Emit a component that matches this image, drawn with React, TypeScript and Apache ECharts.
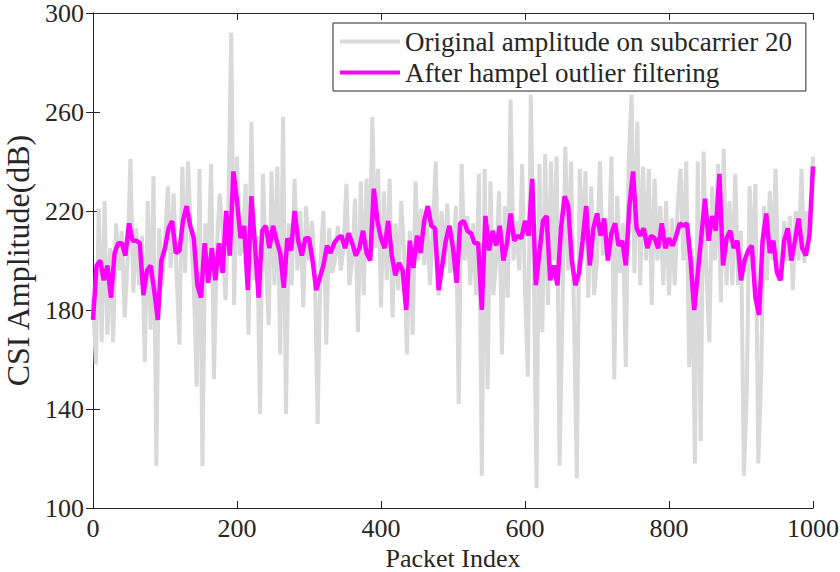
import React, { useEffect, useRef } from "react";
import * as echarts from "echarts";

// Packet index step for the two traced series
const grayStep = 4;
const magentaStep = 5;

// Original amplitude on subcarrier 20 (one value every 4 packets, 0..1000)
const grayValues: number[] = [
  185, 158, 221, 167, 224, 170, 205, 167, 215, 196,
  212, 177, 200, 241, 187, 213, 190, 210, 159, 224,
  172, 234, 117, 213, 190, 208, 230, 197, 227, 195,
  166, 238, 195, 240, 210, 190, 149, 237, 117, 215,
  195, 239, 152, 205, 227, 212, 184, 220, 292, 182,
  242, 202, 205, 231, 170, 256, 192, 210, 138, 235,
  200, 174, 236, 190, 238, 162, 258, 138, 215, 190,
  233, 196, 220, 181, 222, 200, 216, 198, 134, 200,
  220, 166, 213, 195, 200, 214, 196, 205, 231, 190,
  200, 225, 171, 232, 186, 233, 200, 258, 205, 237,
  181, 228, 192, 233, 177, 215, 188, 224, 205, 162,
  212, 170, 232, 200, 221, 198, 216, 190, 212, 240,
  186, 220, 197, 223, 195, 200, 222, 142, 239, 200,
  218, 190, 215, 186, 235, 113, 237, 148, 232, 186,
  200, 228, 162, 222, 185, 265, 200, 216, 196, 239,
  188, 153, 267, 200, 108, 239, 171, 243, 182, 240,
  200, 242, 117, 180, 246, 196, 240, 179, 112, 237,
  202, 236, 185, 230, 186, 200, 240, 202, 216, 200,
  242, 152, 226, 195, 215, 157, 240, 267, 195, 256,
  190, 238, 200, 237, 182, 233, 200, 222, 190, 224,
  186, 217, 190, 222, 237, 200, 240, 157, 205, 118,
  240, 127, 244, 196, 167, 230, 200, 239, 183, 245,
  190, 224, 190, 235, 190, 212, 113, 146, 230, 196,
  231, 118, 154, 222, 192, 228, 200, 237, 192, 196,
  216, 200, 218, 188, 220, 200, 237, 199, 220, 212,
  242,
];

// After hampel outlier filtering (one value every 5 packets, 0..1000)
const filteredValues: number[] = [
  176, 198, 200, 192, 198, 185, 203, 207, 207, 202,
  215, 208, 208, 207, 186, 196, 198, 188, 176, 200,
  205, 213, 216, 203, 204, 216, 222, 214, 209, 190,
  185, 207, 191, 205, 192, 207, 195, 220, 202, 236,
  224, 209, 214, 188, 226, 206, 185, 212, 214, 205,
  214, 208, 203, 189, 209, 204, 220, 208, 202, 209,
  209, 200, 188, 193, 198, 206, 203, 207, 209, 210,
  205, 211, 207, 202, 205, 212, 203, 200, 229, 216,
  209, 205, 216, 202, 194, 199, 196, 180, 208, 197,
  210, 203, 216, 222, 214, 213, 188, 198, 208, 214,
  205, 191, 215, 216, 212, 211, 207, 207, 180, 218,
  204, 212, 206, 214, 200, 207, 219, 208, 210, 209,
  216, 210, 233, 190, 203, 216, 218, 192, 198, 190,
  213, 226, 222, 200, 190, 195, 208, 222, 198, 213,
  219, 210, 217, 200, 211, 215, 206, 208, 198, 222,
  236, 213, 210, 213, 205, 210, 209, 205, 215, 205,
  209, 206, 210, 215, 214, 215, 200, 180, 195, 210,
  225, 208, 218, 212, 235, 198, 209, 212, 205, 208,
  192, 200, 204, 206, 185, 178, 208, 219, 203, 208,
  195, 192, 208, 213, 200, 208, 217, 205, 202, 210,
  238,
];

const seriesNames = [
  "Original amplitude on subcarrier 20",
  "After hampel outlier filtering",
];
const xTitle = "Packet Index";
const yTitle = "CSI Amplitude(dB)";

const FONT = "Liberation Serif";
const INK = "#262626";

export default function App() {
  const ref = useRef<HTMLDivElement>(null);

  useEffect(() => {
    if (!ref.current) return;
    const chart = echarts.init(ref.current, undefined, { renderer: "svg" });

    const grayData = grayValues.map((v, i) => [i * grayStep, v]);
    const filtData = filteredValues.map((v, i) => [i * magentaStep, v]);

    const baseX = {
      type: "value" as const,
      min: 0,
      max: 1000,
      interval: 200,
      splitLine: { show: false },
      axisLine: { show: true, lineStyle: { color: INK, width: 1 } },
      axisTick: { show: true, inside: true, length: 7, lineStyle: { color: INK } },
    };
    const baseY = {
      type: "value" as const,
      min: 100,
      max: 300,
      interval: 40,
      splitLine: { show: false },
      axisLine: { show: true, lineStyle: { color: INK, width: 1 } },
      axisTick: { show: true, inside: true, length: 7, lineStyle: { color: INK } },
    };

    chart.setOption({
      animation: false,
      backgroundColor: "#ffffff",
      textStyle: { fontFamily: FONT },
      grid: {
        left: 93,
        right: 27,
        top: 13,
        bottom: 64,
        containLabel: false,
        outerBoundsMode: "none",
      },
      xAxis: [
        {
          ...baseX,
          position: "bottom",
          axisLabel: {
            fontFamily: FONT,
            fontSize: 26,
            color: INK,
            margin: 7,
            formatter: (v: number) => String(v),
          },
          name: xTitle,
          nameLocation: "middle",
          nameGap: 31,
          nameTextStyle: { fontFamily: FONT, fontSize: 26, color: INK },
        },
        {
          ...baseX,
          position: "top",
          axisLabel: { show: false },
        },
      ],
      yAxis: [
        {
          ...baseY,
          position: "left",
          axisLabel: {
            fontFamily: FONT,
            fontSize: 26,
            color: INK,
            margin: 9,
            formatter: (v: number) => String(v),
          },
          name: yTitle,
          nameLocation: "middle",
          nameGap: 52,
          nameTextStyle: { fontFamily: FONT, fontSize: 32, color: INK },
        },
        {
          ...baseY,
          position: "right",
          axisLabel: { show: false },
        },
      ],
      legend: {
        show: true,
        orient: "vertical",
        left: 333,
        top: 23,
        padding: [5, 14, 5, 7],
        itemGap: 4,
        itemWidth: 60,
        itemHeight: 4,
        icon: "rect",
        backgroundColor: "#ffffff",
        borderColor: INK,
        borderWidth: 1,
        borderRadius: 0,
        textStyle: { fontFamily: FONT, fontSize: 27, color: INK, lineHeight: 27 },
        data: seriesNames,
      },
      series: [
        {
          name: seriesNames[0],
          type: "line",
          xAxisIndex: 0,
          yAxisIndex: 0,
          data: grayData,
          showSymbol: false,
          symbol: "none",
          lineStyle: { color: "#d9d9d9", width: 4 },
          itemStyle: { color: "#d9d9d9" },
          z: 2,
        },
        {
          name: seriesNames[1],
          type: "line",
          xAxisIndex: 0,
          yAxisIndex: 0,
          data: filtData,
          showSymbol: false,
          symbol: "none",
          lineStyle: { color: "#ff00ff", width: 4.5 },
          itemStyle: { color: "#ff00ff" },
          z: 3,
        },
      ],
    });

    return () => {
      chart.dispose();
    };
  }, []);

  return (
    <div
      ref={ref}
      style={{
        position: "fixed",
        left: 0,
        top: 0,
        width: 840,
        height: 572,
        background: "#ffffff",
      }}
    />
  );
}
